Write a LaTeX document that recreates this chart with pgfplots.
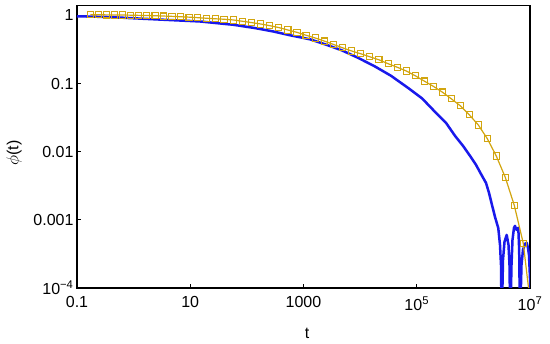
\documentclass[border=0pt]{standalone}
\usepackage{fontspec}
\setmainfont{Liberation Sans}
\usepackage{pgfplots}
\pgfplotsset{compat=1.18}
\definecolor{bl}{RGB}{25,25,235}
\definecolor{yl}{RGB}{210,165,15}
\begin{document}
\begin{tikzpicture}
\useasboundingbox (-77pt,-56pt) rectangle (473pt,288pt);
\begin{axis}[at={(0,0)}, anchor=south west, scale only axis,
  width=453pt, height=282.5pt,
  xmode=log, ymode=log, xmin=0.1, xmax=1e7, ymin=1e-4, ymax=1.4,
  xtick={0.1,10,1000,1e5,1e7},
  xticklabels={0.1,10,1000,10\textsuperscript{5},10\textsuperscript{7}},
  ytick={1e-4,1e-3,1e-2,1e-1,1},
  yticklabels={10\textsuperscript{−4},0.001,0.01,0.1,1},
  xminorticks=false, yminorticks=false,
  tick pos=left, tick align=inside, major tick length=4pt,
  axis line style={line width=1.2pt},
  every tick/.style={black, line width=1pt},
  ticklabel style={font=\fontsize{16}{18}\selectfont},
  xticklabel style={yshift=-5pt},
  xlabel={t}, ylabel={$\phi$(t)},
  label style={font=\fontsize{16}{18}\selectfont},
  xlabel style={at={(axis description cs:0.508,-0.159)}, anchor=center},
  ylabel style={at={(axis description cs:-0.139,0.478)}, anchor=center},
]
\addplot[bl, line width=2.5pt, line join=round] coordinates {
(0.1,0.973) (0.3826,0.947) (1.482,0.894) (4.389,0.856) (14.87,0.816)
(57.60,0.730) (139.2,0.653) (292.9,0.582) (577.6,0.512) (1302,0.447)
(2397,0.3777) (4726,0.3083) (9173,0.2392) (18310,0.1783) (35110,0.1302)
(70930,0.0859) (123800,0.0608) (210100,0.0385) (328600,0.02657)
(473700,0.01712) (656000,0.01221) (871400,0.00871) (1.113e6,0.00642)
(1.420e6,0.00443) (1.671e6,0.00349) (1.888e6,0.00249) (2.132e6,0.00166)
(2.409e6,0.001107) (2.755e6,0.000755) (2.953e6,0.000429) (3.076e6,0.000218)
(3.164e6,0.00003)
(3.336e6,0.000259) (3.545e6,0.000475) (3.877e6,0.000602) (4.173e6,0.000429)
(4.345e6,0.000218) (4.489e6,0.00003)
(4.713e6,0.000218) (4.909e6,0.000509) (5.216e6,0.000763) (5.433e6,0.000816)
(5.774e6,0.000713) (6.215e6,0.000763) (6.447e6,0.000363) (6.660e6,0.00003)
(7.078e6,0.000218) (7.522e6,0.000363) (8.160e6,0.000444) (8.745e6,0.000460)
(9.220e6,0.000388) (9.600e6,0.000306) (1.021e7,0.000094)
};
\addplot[yl, line width=1.2pt, mark=square, mark size=3.1pt,
  mark options={line width=1.1pt, solid}] coordinates {
(0.173,1.024) (0.2377,1.024) (0.3279,1.020) (0.4539,1.017) (0.6283,1.014)
(0.8735,1.010) (1.219,1.003) (1.709,0.9966) (2.394,0.990) (3.371,0.980)
(4.762,0.970) (6.726,0.957) (9.544,0.944) (13.54,0.928) (19.29,0.910)
(27.58,0.894) (39.45,0.880) (57.60,0.859) (83.37,0.822) (120.7,0.786)
(174.8,0.750) (253.1,0.708) (366.3,0.664) (530.2,0.612) (767.8,0.565)
(1111,0.512) (1609,0.467) (2330,0.421) (3373,0.376) (4884,0.3355)
(7070,0.301) (10240,0.274) (14820,0.2474) (21460,0.2236) (31450,0.1953)
(45360,0.1735) (65380,0.1531) (94280,0.1302) (135900,0.1088) (196000,0.0913)
(282700,0.0750) (407600,0.0598) (587700,0.0472) (847300,0.0348)
(1.222e6,0.0247) (1.762e6,0.01557) (2.540e6,0.00865) (3.662e6,0.00421)
(5.280e6,0.001633) (7.613e6,0.000452) (1.098e7,0.000034)
};
\end{axis}
\end{tikzpicture}
\end{document}
